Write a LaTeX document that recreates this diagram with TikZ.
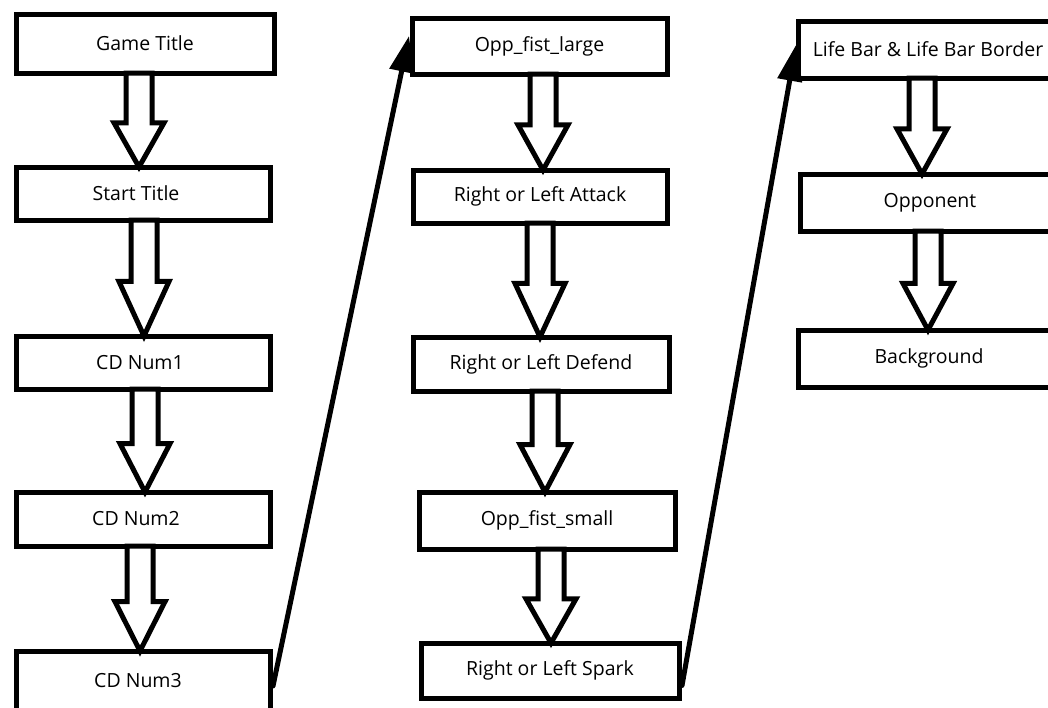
\documentclass[tikz,border=0pt]{standalone}
\usepackage{fontspec}
\setmainfont{Open Sans}
\usetikzlibrary{calc,arrows.meta}

% stage box given by its corner coordinates (x1,y1) and (x2,y2)
\newcommand{\stagebox}[6]{%
  \node[stage, minimum width={(#4)-(#2)}, minimum height={(#5)-(#3)}]
    (#1) at ({((#2)+(#4))/2},{((#3)+(#5))/2}) {#6};}

% hollow block arrow at x = #1 from the bottom of node #2 to the top of node #3
\newcommand{\blockdown}[3]{%
  \draw[flow] let \p1=(#2.south), \p2=(#3.north),
      \p3=($(\p1)!0.53!(\p2)$) in
    ({#1pt-13pt},\y1) -- ({#1pt-13pt},\y3) -- ({#1pt-25pt},\y3)
    -- ({#1pt},\y2) -- ({#1pt+25pt},\y3) -- ({#1pt+13pt},\y3)
    -- ({#1pt+13pt},\y1) -- cycle;}

\begin{document}
\begin{tikzpicture}[x=1pt,y=-1pt,
  stage/.style={draw=black, line width=5pt, fill=white, rectangle,
    outer sep=0pt, inner sep=0pt, font=\fontsize{19.5}{23}\selectfont},
  flow/.style={draw=black, line width=5pt, fill=white, line join=miter},
  jump/.style={draw=black, line width=5pt, line cap=round,
    -{Triangle[length=36pt,width=24pt]}}]

\useasboundingbox (0,0) rectangle (1048,707);

% first column
\stagebox{gt}{16}{14}{274}{73}{Game Title}
\stagebox{st}{16}{167}{270}{220}{\hspace*{-14pt}Start Title}
\stagebox{cda}{16}{336}{270}{389}{\hspace*{-6pt}CD Num1}
\stagebox{cdb}{16}{492}{270}{546}{\hspace*{-14pt}CD Num2}
\stagebox{cdc}{16}{651}{270}{711}{\hspace*{-10pt}CD Num3}

% second column
\stagebox{ofl}{412}{18}{667}{74}{Opp\_fist\_large}
\stagebox{rla}{413}{170}{667}{223}{Right or Left Attack}
\stagebox{rld}{413}{337}{669}{391}{Right or Left Defend}
\stagebox{ofs}{419}{492}{675}{549}{Opp\_fist\_small}
\stagebox{rls}{421}{643}{679}{698}{Right or Left Spark}

% third column
\stagebox{lb}{798}{21}{1058}{78}{Life Bar \& Life Bar Border}
\stagebox{op}{800}{174}{1060}{231}{Opponent}
\stagebox{bg}{798}{330}{1060}{387}{Background}

% block arrows within the columns
\blockdown{139}{gt}{st}
\blockdown{144}{st}{cda}
\blockdown{145}{cda}{cdb}
\blockdown{140}{cdb}{cdc}

\blockdown{543}{ofl}{rla}
\blockdown{540}{rla}{rld}
\blockdown{545}{rld}{ofs}
\blockdown{551}{ofs}{rls}

\blockdown{922}{lb}{op}
\blockdown{928}{op}{bg}

% links from the bottom of one column to the top of the next
\draw[jump] ([shift={(3,5)}]cdc.east) -- ([shift={(-3,18)}]ofl.north west);
\draw[jump] ([shift={(3,15)}]rls.east) -- ([shift={(-2,24)}]lb.north west);
\end{tikzpicture}
\end{document}
